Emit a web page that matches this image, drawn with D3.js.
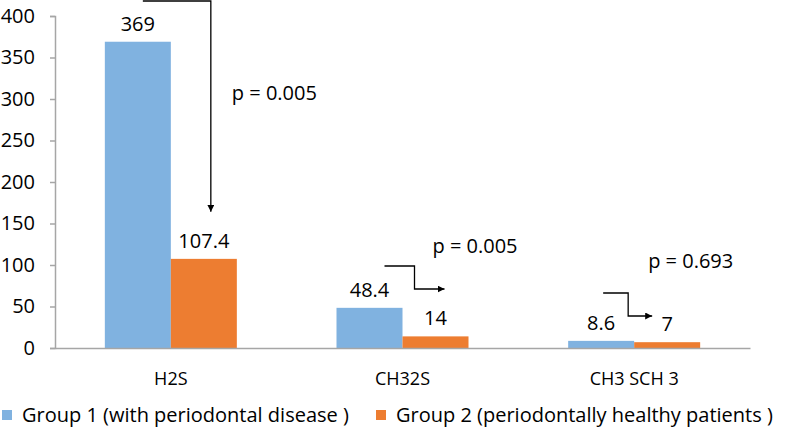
<!DOCTYPE html>
<html><head><meta charset="utf-8">
<script src="https://cdn.jsdelivr.net/npm/d3@7"></script>
<style>body{margin:0;background:#fff}svg{display:block}text{font-family:"Open Sans",sans-serif;fill:#000}</style>
</head><body><svg id="c" width="787" height="428"></svg>
<script>
const categories = ["H2S", "CH32S", "CH3 SCH 3"];
const seriesNames = ["Group 1 (with periodontal disease )", "Group 2 (periodontally healthy patients )"];
const group1 = [369, 48.4, 8.6];
const group2 = [107.4, 14, 7];
const valueLabels1 = ["369", "48.4", "8.6"];
const valueLabels2 = ["107.4", "14", "7"];
const pLabels = ["p = 0.005", "p = 0.005", "p = 0.693"];
const yTicks = [0, 50, 100, 150, 200, 250, 300, 350, 400];
const colors = ["#80B2E0", "#ED7D31"];

(function(){
const FONT = "Open Sans";
const FS = 20;
const svg = d3.select("#c");
const mLeft = 55, mRight = 750, mTop = 16, mBottom = 348;
const x = d3.scaleBand().domain(categories).range([mLeft, mRight]).paddingInner(0).paddingOuter(0);
const inner = d3.scaleBand().domain([0,1]).range([0, x.bandwidth()]).paddingInner(0).paddingOuter(0.755);
const y = d3.scaleLinear().domain([0, 400]).range([mBottom, mTop]);

// y axis
const yAxis = svg.append("g").attr("transform", `translate(${mLeft},0)`)
  .call(d3.axisLeft(y).tickValues(yTicks).tickSize(5).tickPadding(15));
yAxis.select(".domain").attr("stroke", "#A6A6A6").attr("stroke-width", 1.5);
yAxis.selectAll(".tick line").attr("stroke", "#A6A6A6").attr("stroke-width", 1.5);
yAxis.selectAll(".tick text").attr("font-size", FS).attr("font-family", FONT).attr("fill", "#000");

// bars
const data = categories.map((c, i) => ({c, v: [group1[i], group2[i]], l: [valueLabels1[i], valueLabels2[i]]}));
const g = svg.append("g");
data.forEach(d => {
  [0,1].forEach(s => {
    g.append("rect")
      .attr("x", x(d.c) + inner(s))
      .attr("y", y(d.v[s]))
      .attr("width", inner.bandwidth())
      .attr("height", mBottom - y(d.v[s]))
      .attr("fill", colors[s]);
    g.append("text")
      .attr("x", x(d.c) + inner(s) + inner.bandwidth()/2)
      .attr("y", y(d.v[s]) - 11)
      .attr("text-anchor", "middle")
      .attr("font-size", FS)
      .text(d.l[s]);
  });
});

// x axis
const xAxis = svg.append("g").attr("transform", `translate(0,${mBottom})`)
  .call(d3.axisBottom(x).tickSize(0).tickPadding(24));
xAxis.select(".domain").attr("stroke", "#A6A6A6").attr("stroke-width", 1.5);
xAxis.selectAll(".tick text").attr("font-size", 18).attr("font-family", FONT).attr("fill", "#000");

// arrows
const defs = svg.append("defs");
defs.append("marker").attr("id", "ah").attr("viewBox", "0 0 10 10").attr("refX", 10).attr("refY", 5)
  .attr("markerWidth", 7).attr("markerHeight", 7).attr("orient", "auto-start-reverse").attr("markerUnits","userSpaceOnUse")
  .append("path").attr("d", "M0,0 L10,5 L0,10 z").attr("fill", "#000");

const cx = c => x(c) + x.bandwidth()/2;
const a0 = cx(categories[0]);
svg.append("path")
  .attr("d", `M${a0-28},1 H${a0+40} V${y(group2[0]) - 47}`)
  .attr("fill", "none").attr("stroke", "#000").attr("stroke-width", 1.3).attr("marker-end", "url(#ah)");
svg.append("text").attr("x", a0 + 61).attr("y", 100).attr("font-size", FS).text(pLabels[0]);

const a1 = cx(categories[1]);
svg.append("path")
  .attr("d", `M${a1-18},266 H${a1+12} V289 H${a1+42}`)
  .attr("fill", "none").attr("stroke", "#000").attr("stroke-width", 1.3).attr("marker-end", "url(#ah)");
svg.append("text").attr("x", a1 + 30).attr("y", 253).attr("font-size", FS).text(pLabels[1]);

const a2 = cx(categories[2]);
svg.append("path")
  .attr("d", `M${a2-31},293 H${a2-6} V316 H${a2+18}`)
  .attr("fill", "none").attr("stroke", "#000").attr("stroke-width", 1.3).attr("marker-end", "url(#ah)");
svg.append("text").attr("x", a2 + 14).attr("y", 268).attr("font-size", FS).text(pLabels[2]);

// legend
const leg = svg.append("g");
const legX = [2, 376];
seriesNames.forEach((n, i) => {
  leg.append("rect").attr("x", legX[i]).attr("y", 410).attr("width", 10).attr("height", 10).attr("fill", colors[i]);
  leg.append("text").attr("x", legX[i] + 20).attr("y", 422).attr("font-size", FS).text(n);
});
})();
</script></body></html>
